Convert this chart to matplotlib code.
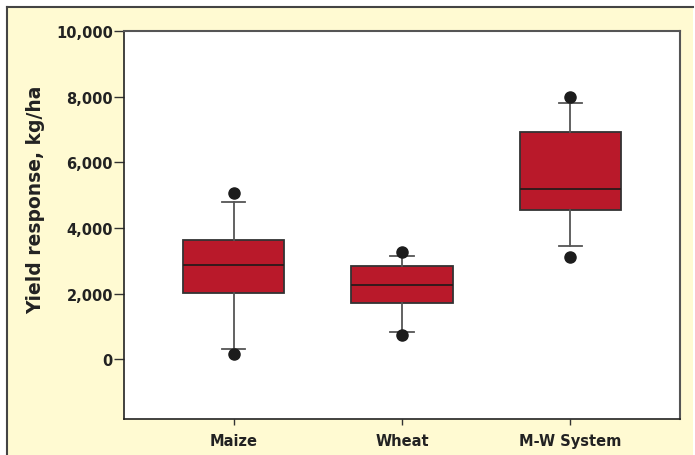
import matplotlib.pyplot as plt
from matplotlib.patches import Rectangle
from matplotlib.lines import Line2D

# box plot summary values (kg/ha)
crops = ["Maize", "Wheat", "M-W System"]
q1 = [2020, 1700, 4540]
median = [2870, 2260, 5200]
q3 = [3640, 2830, 6910]
whisker_low = [320, 830, 3450]
whisker_high = [4800, 3150, 7800]
outliers = [[5050, 150], [3270, 730], [8000, 3100]]

yticks = [0, 2000, 4000, 6000, 8000, 10000]

plt.rcParams['font.family'] = ['DejaVu Sans']
plt.rcParams['font.weight'] = 'bold'

fig = plt.figure(figsize=(6.95, 4.56), dpi=100)
fig.patch.set_facecolor("white")

# yellow panel behind the chart
panel = Rectangle((7 / 695, -0.01), (693 - 7) / 695, 1.01 - 8 / 456,
                  transform=fig.transFigure, facecolor="#fffad2", edgecolor="none", zorder=-2)
fig.patches.append(panel)
fig.lines.append(Line2D([7 / 695, 7 / 695], [0, 1 - 8 / 456], transform=fig.transFigure,
                        color="#444444", lw=1.5, zorder=-1))
fig.lines.append(Line2D([7 / 695, 693 / 695], [1 - 8 / 456, 1 - 8 / 456], transform=fig.transFigure,
                        color="#444444", lw=1.5, zorder=-1))

ax = fig.add_axes([124 / 695, 1 - 420 / 456, (680 - 124) / 695, (420 - 32) / 456])
ax.set_facecolor("white")
ax.set_zorder(1)

stats = []
for i, name in enumerate(crops):
    stats.append({
        "label": name,
        "q1": q1[i],
        "med": median[i],
        "q3": q3[i],
        "whislo": whisker_low[i],
        "whishi": whisker_high[i],
        "fliers": outliers[i],
    })

ax.bxp(stats, positions=[1, 2, 3], widths=0.6, capwidths=0.14, patch_artist=True,
       boxprops=dict(facecolor="#b9192a", edgecolor="#333333", linewidth=1.3),
       medianprops=dict(color="#2a1a1a", linewidth=1.3),
       whiskerprops=dict(color="#555555", linewidth=1.3),
       capprops=dict(color="#555555", linewidth=1.3),
       flierprops=dict(marker="o", markersize=8, markerfacecolor="#1c1c1c",
                       markeredgecolor="#1c1c1c"))

ax.set_xlim(0.35, 3.65)
ax.set_ylim(-1820, 10000)
ax.set_yticks(yticks)
ax.set_yticklabels([f"{v:,}" for v in yticks])
ax.set_xticks([1, 2, 3])
ax.set_xticklabels(crops)

for side in ["left", "bottom"]:
    ax.spines[side].set_color("#222222")
    ax.spines[side].set_linewidth(1.2)
for side in ["right", "top"]:
    ax.spines[side].set_color("#555555")
    ax.spines[side].set_linewidth(1.5)

ax.tick_params(axis="y", length=7, width=1, color="#333333", pad=1, labelsize=10.5, labelcolor="#222222")
ax.tick_params(axis="x", length=4, width=1, color="#333333", pad=6, labelsize=10.5, labelcolor="#222222")

ax.set_ylabel("Yield response, kg/ha", fontsize=13.5, fontweight="bold", color="#222222")
ax.yaxis.set_label_coords(-0.142, 0.567)

fig.savefig("out.png", dpi=100, facecolor=fig.get_facecolor())
